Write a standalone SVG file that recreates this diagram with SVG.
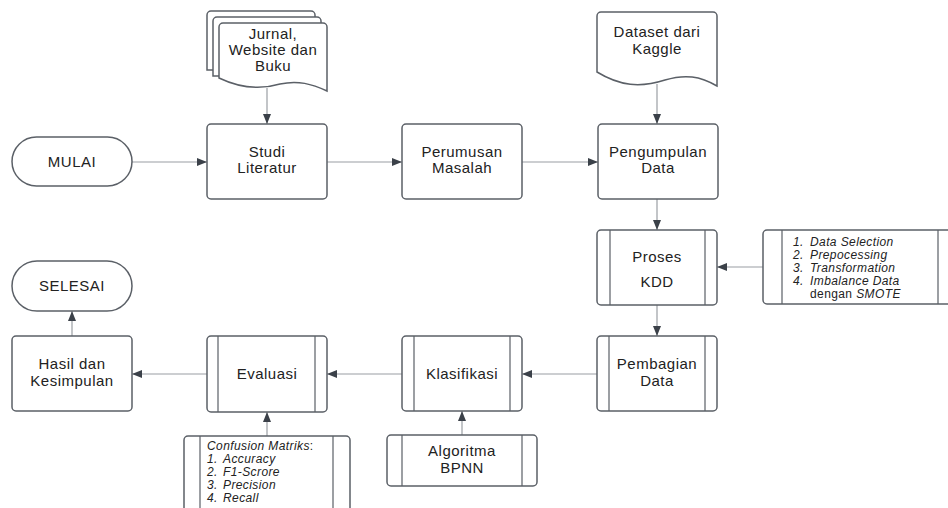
<svg xmlns="http://www.w3.org/2000/svg" width="948" height="508" viewBox="0 0 948 508">
<defs>
<marker id="ah" viewBox="0 0 10 10" refX="10" refY="5" markerWidth="10" markerHeight="10" markerUnits="userSpaceOnUse" orient="auto"><path d="M0,1 L10,5 L0,9 Z" fill="#3b4149"/></marker>
<style>
.b{fill:#fff;stroke:#5b6067;stroke-width:1.5}
.l{fill:none;stroke:#5b6067;stroke-width:1.2}
.c{fill:none;stroke:#9a9ea3;stroke-width:1.2;marker-end:url(#ah)}
.t{font-family:"Liberation Sans",Arial,sans-serif;font-size:15px;letter-spacing:0.5px;fill:#222;text-anchor:middle}
.s{font-family:"Liberation Sans",Arial,sans-serif;font-size:12px;letter-spacing:0.4px;fill:#222;font-style:italic}
</style>
</defs>
<rect width="948" height="508" fill="#fff"/>
<g id="connectors">
<path class="c" d="M132,162 H207"/>
<path class="c" d="M327,162 H402"/>
<path class="c" d="M522,162 H598"/>
<path class="c" d="M267,88 V124"/>
<path class="c" d="M657,84 V124"/>
<path class="c" d="M657,199 V230"/>
<path class="c" d="M763,267 H717"/>
<path class="c" d="M657,305 V336"/>
<path class="c" d="M597,374 H522"/>
<path class="c" d="M402,374 H327"/>
<path class="c" d="M207,374 H132"/>
<path class="c" d="M72,336 V311"/>
<path class="c" d="M462,435 V411"/>
<path class="c" d="M267,436 V412"/>
</g>
<g id="mulai"><rect class="b" x="12" y="137" width="120" height="49" rx="24.5"/><text class="t" x="72" y="167">MULAI</text></g>
<g id="jurnal">
<path class="b" d="M207,15 a4,4 0 0 1 4,-4 h100 a4,4 0 0 1 4,4 V70 H207 Z"/>
<path class="b" d="M213,21 a4,4 0 0 1 4,-4 h100 a4,4 0 0 1 4,4 V76 H213 Z"/>
<path class="b" d="M219,27 a4,4 0 0 1 4,-4 h100 a4,4 0 0 1 4,4 V91 C312,84 298,80 280,84 C260,90 240,88 219,78 Z"/>
<text class="t" x="273" y="39">Jurnal,</text><text class="t" x="273" y="55">Website dan</text><text class="t" x="273" y="71">Buku</text>
</g>
<g id="dataset">
<path class="b" d="M597,16 a4,4 0 0 1 4,-4 h112 a4,4 0 0 1 4,4 V86 C700,76 685,74 665,80 C640,88 620,86 597,72 Z"/>
<text class="t" x="657" y="37">Dataset dari</text><text class="t" x="657" y="54">Kaggle</text>
</g>
<g id="studi"><rect class="b" x="207" y="124" width="120" height="75" rx="4"/><text class="t" x="267" y="157">Studi</text><text class="t" x="267" y="173">Literatur</text></g>
<g id="perumusan"><rect class="b" x="402" y="124" width="120" height="75" rx="4"/><text class="t" x="462" y="157">Perumusan</text><text class="t" x="462" y="173">Masalah</text></g>
<g id="pengumpulan"><rect class="b" x="598" y="124" width="120" height="75" rx="4"/><text class="t" x="658" y="157">Pengumpulan</text><text class="t" x="658" y="173">Data</text></g>
<g id="kdd"><rect class="b" x="597" y="230" width="120" height="75" rx="4"/><path class="l" d="M610,230 V305 M705,230 V305"/><text class="t" x="657" y="262">Proses</text><text class="t" x="657" y="287">KDD</text></g>
<g id="kddsteps"><rect class="b" x="763" y="230" width="190" height="74" rx="4"/><path class="l" d="M782,230 V304 M938,230 V304"/>
<text class="s" y="246"><tspan x="793">1.</tspan><tspan x="810">Data Selection</tspan></text>
<text class="s" y="259"><tspan x="793">2.</tspan><tspan x="810">Prepocessing</tspan></text>
<text class="s" y="272"><tspan x="793">3.</tspan><tspan x="810">Transformation</tspan></text>
<text class="s" y="285"><tspan x="793">4.</tspan><tspan x="810">Imbalance Data</tspan></text>
<text class="s" x="810" y="298"><tspan font-style="normal">dengan </tspan>SMOTE</text>
</g>
<g id="pembagian"><rect class="b" x="597" y="336" width="120" height="75" rx="4"/><path class="l" d="M609,336 V411 M705,336 V411"/><text class="t" x="657" y="369">Pembagian</text><text class="t" x="657" y="386">Data</text></g>
<g id="klasifikasi"><rect class="b" x="402" y="336" width="120" height="75" rx="4"/><path class="l" d="M414,336 V411 M510,336 V411"/><text class="t" x="462" y="379">Klasifikasi</text></g>
<g id="evaluasi"><rect class="b" x="207" y="336" width="120" height="76" rx="4"/><path class="l" d="M218,336 V412 M315,336 V412"/><text class="t" x="267" y="379">Evaluasi</text></g>
<g id="hasil"><rect class="b" x="12" y="336" width="120" height="75" rx="4"/><text class="t" x="72" y="369">Hasil dan</text><text class="t" x="72" y="386">Kesimpulan</text></g>
<g id="selesai"><rect class="b" x="12" y="261" width="120" height="50" rx="25"/><text class="t" x="72" y="291">SELESAI</text></g>
<g id="bpnn"><rect class="b" x="387" y="435" width="150" height="51" rx="4"/><path class="l" d="M402,435 V486 M522,435 V486"/><text class="t" x="462" y="456">Algoritma</text><text class="t" x="462" y="473">BPNN</text></g>
<g id="confusion"><rect class="b" x="184" y="436" width="166" height="90" rx="4"/><path class="l" d="M200,436 V526 M333,436 V526"/>
<text class="s" x="207" y="450">Confusion Matriks<tspan font-style="normal">:</tspan></text>
<text class="s" y="463"><tspan x="207">1.</tspan><tspan x="223">Accuracy</tspan></text>
<text class="s" y="476"><tspan x="207">2.</tspan><tspan x="223">F1-Scrore</tspan></text>
<text class="s" y="489"><tspan x="207">3.</tspan><tspan x="223">Precision</tspan></text>
<text class="s" y="502"><tspan x="207">4.</tspan><tspan x="223">Recall</tspan></text>
</g>
</svg>
